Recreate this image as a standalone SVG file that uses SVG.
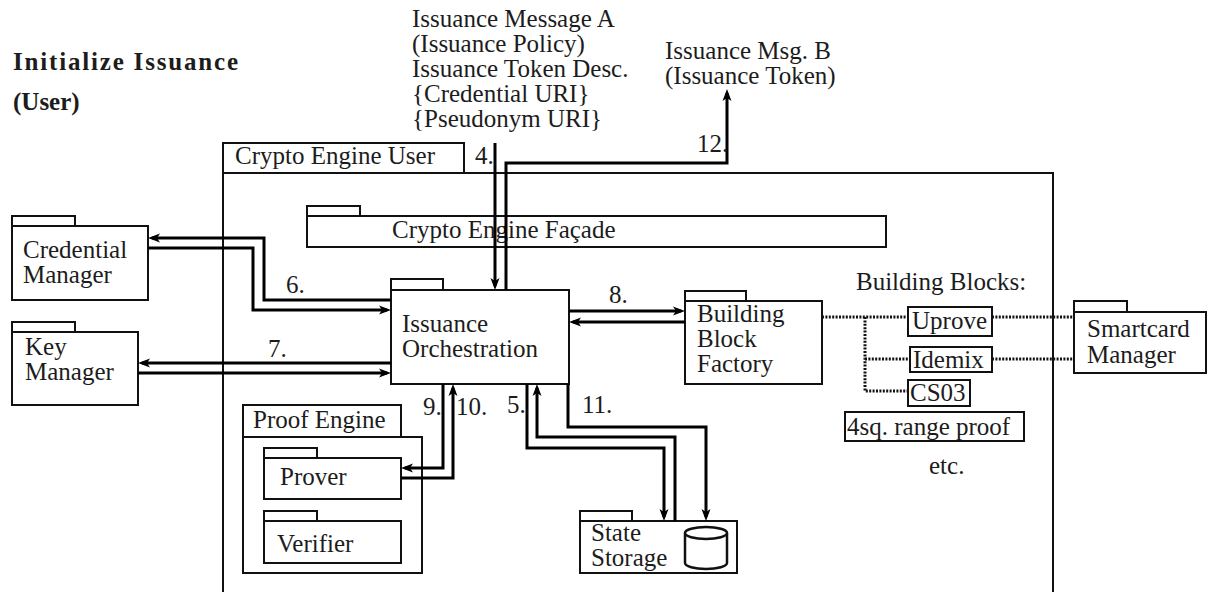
<svg xmlns="http://www.w3.org/2000/svg" width="1210" height="592" viewBox="0 0 1210 592">
  <style>
    text { font-size: 25px; fill: #1c1c1c; }
    .b { font-weight: bold; }
    .box { fill: #ffffff; stroke: #111; stroke-width: 2; }
    .wire { fill: none; stroke: #000; stroke-width: 3; }
    .dot { fill: none; stroke: #111; stroke-width: 3; stroke-dasharray: 2 1.4; }
  </style>
  <defs>
    <marker id="head" viewBox="0 -5 12 10" markerWidth="12" markerHeight="10" markerUnits="userSpaceOnUse" refX="8" refY="0" orient="auto">
      <path d="M0,-4.5 L12,0 L0,4.5 L3,0 z" fill="#000"/>
    </marker>
  </defs>
  <rect width="1210" height="592" fill="#ffffff"/>

  <g font-family="Liberation Serif, Times New Roman, serif">
  <!-- headings -->
  <text class="b" x="13" y="70" textLength="225" lengthAdjust="spacing">Initialize Issuance</text>
  <text class="b" x="13" y="110">(User)</text>

  <!-- incoming / outgoing messages -->
  <g id="msg-a">
    <text x="412" y="27">Issuance Message A</text>
    <text x="412" y="52">(Issuance Policy)</text>
    <text x="412" y="77">Issuance Token Desc.</text>
    <text x="412" y="102">{Credential URI}</text>
    <text x="412" y="127">{Pseudonym URI}</text>
  </g>
  <g id="msg-b">
    <text x="665" y="59">Issuance Msg. B</text>
    <text x="665" y="84">(Issuance Token)</text>
  </g>

  <!-- Crypto Engine User container -->
  <g id="crypto-engine-user">
    <rect class="box" x="223" y="173" width="830" height="440"/>
    <rect class="box" x="223" y="143" width="241" height="30"/>
    <text x="235" y="164">Crypto Engine User</text>
  </g>

  <!-- Crypto Engine Facade -->
  <g id="facade">
    <rect class="box" x="307" y="206" width="53" height="10"/>
    <rect class="box" x="307" y="216" width="579" height="31"/>
    <text x="392" y="238">Crypto Engine Façade</text>
  </g>

  <!-- external managers -->
  <g id="credential-manager">
    <rect class="box" x="12" y="216" width="63" height="10"/>
    <rect class="box" x="12" y="226" width="136" height="74"/>
    <text x="23" y="258">Credential</text>
    <text x="23" y="283">Manager</text>
  </g>
  <g id="key-manager">
    <rect class="box" x="12" y="322" width="63" height="10"/>
    <rect class="box" x="12" y="332" width="126" height="73"/>
    <text x="25" y="355">Key</text>
    <text x="25" y="380">Manager</text>
  </g>
  <g id="smartcard-manager">
    <rect class="box" x="1074" y="301" width="53" height="11"/>
    <rect class="box" x="1074" y="312" width="132" height="61"/>
    <text x="1087" y="337">Smartcard</text>
    <text x="1087" y="363">Manager</text>
  </g>

  <!-- Issuance Orchestration -->
  <g id="orchestration">
    <rect class="box" x="391" y="279" width="52" height="11"/>
    <rect class="box" x="391" y="290" width="178" height="94"/>
    <text x="402" y="332">Issuance</text>
    <text x="402" y="357">Orchestration</text>
  </g>

  <!-- Building Block Factory -->
  <g id="bb-factory">
    <rect class="box" x="685" y="291" width="61" height="10"/>
    <rect class="box" x="685" y="301" width="137" height="83"/>
    <text x="697" y="322">Building</text>
    <text x="697" y="347">Block</text>
    <text x="697" y="372">Factory</text>
  </g>

  <!-- building blocks list -->
  <g id="building-blocks">
    <text x="856" y="290">Building Blocks:</text>
    <rect class="box" x="908" y="307" width="84" height="29"/>
    <text x="912" y="329">Uprove</text>
    <rect class="box" x="910" y="347" width="82" height="25"/>
    <text x="913" y="368">Idemix</text>
    <rect class="box" x="908" y="380" width="62" height="26"/>
    <text x="910" y="401">CS03</text>
    <rect class="box" x="845" y="412" width="179" height="29"/>
    <text x="847" y="435">4sq. range proof</text>
    <text x="929" y="474">etc.</text>
  </g>

  <!-- Proof Engine -->
  <g id="proof-engine">
    <rect class="box" x="243" y="437" width="179" height="136"/>
    <rect class="box" x="243" y="405" width="158" height="32"/>
    <text x="253" y="428">Proof Engine</text>
  </g>
  <g id="prover">
    <rect class="box" x="264" y="448" width="53" height="10"/>
    <rect class="box" x="264" y="458" width="137" height="41"/>
    <text x="280" y="485">Prover</text>
  </g>
  <g id="verifier">
    <rect class="box" x="264" y="511" width="53" height="10"/>
    <rect class="box" x="264" y="521" width="137" height="42"/>
    <text x="277" y="552">Verifier</text>
  </g>

  <!-- State Storage -->
  <g id="state-storage">
    <rect class="box" x="580" y="511" width="52" height="10"/>
    <rect class="box" x="580" y="521" width="157" height="52"/>
    <text x="591" y="541">State</text>
    <text x="591" y="566">Storage</text>
    <path d="M685,533 V563 A21,6 0 0 0 727,563 V533" fill="#fff" stroke="#111" stroke-width="2.5"/>
    <ellipse cx="706" cy="533" rx="21" ry="6" fill="#fff" stroke="#111" stroke-width="2.5"/>
  </g>

  <!-- connectors -->
  <g id="connectors">
    <path class="wire" d="M495,143 V286" marker-end="url(#head)"/>
    <path class="wire" d="M506,290 V163 H727 V93" marker-end="url(#head)"/>
    <path class="wire" d="M391,300 H264 V238 H152" marker-end="url(#head)"/>
    <path class="wire" d="M148,248 H253 V310 H387" marker-end="url(#head)"/>
    <path class="wire" d="M391,363 H142" marker-end="url(#head)"/>
    <path class="wire" d="M138,373 H387" marker-end="url(#head)"/>
    <path class="wire" d="M569,311 H681" marker-end="url(#head)"/>
    <path class="wire" d="M685,322 H573" marker-end="url(#head)"/>
    <path class="wire" d="M443,384 V468 H405" marker-end="url(#head)"/>
    <path class="wire" d="M401,478 H453 V388" marker-end="url(#head)"/>
    <path class="wire" d="M527,384 V448 H664 V517" marker-end="url(#head)"/>
    <path class="wire" d="M675,521 V437 H537 V388" marker-end="url(#head)"/>
    <path class="wire" d="M568,384 V427 H706 V517" marker-end="url(#head)"/>
    <path class="dot" d="M822,317 H908"/>
    <path class="dot" d="M865,317 V391 H908"/>
    <path class="dot" d="M865,359 H910"/>
    <path class="dot" d="M992,317 H1074"/>
    <path class="dot" d="M992,359 H1074"/>
  </g>

  <!-- step numbers -->
  <g id="step-labels">
    <text x="475" y="164">4.</text>
    <text x="697" y="152">12.</text>
    <text x="286" y="293">6.</text>
    <text x="268" y="357">7.</text>
    <text x="609" y="303">8.</text>
    <text x="423" y="415">9.</text>
    <text x="456" y="415">10.</text>
    <text x="507" y="413">5.</text>
    <text x="582" y="413">11.</text>
  </g>
  </g>
</svg>
